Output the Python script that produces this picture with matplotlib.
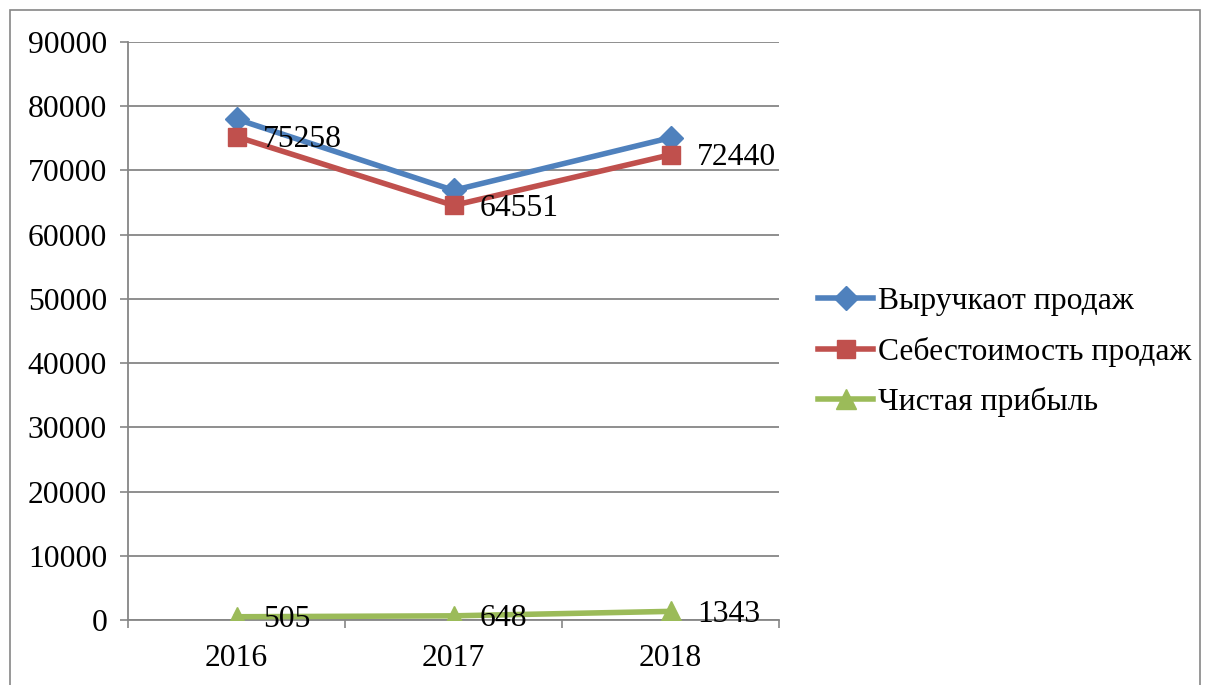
import matplotlib
matplotlib.use("Agg")
import matplotlib.pyplot as plt
from matplotlib.patches import Rectangle

plt.rcParams['font.family'] = ['Liberation Serif', 'DejaVu Serif']

years = ["2016", "2017", "2018"]
revenue = [78000, 66900, 75100]
cost = [75258, 64551, 72440]
profit = [505, 648, 1343]
cost_labels = ["75258", "64551", "72440"]
profit_labels = ["505", "648", "1343"]
series_names = ["Выручкаот продаж", "Себестоимость продаж", "Чистая прибыль"]
yticks = list(range(0, 90001, 10000))

FS = 22.8
GRID = "#868686"
BLUE = "#4F81BD"
RED = "#C0504D"
GREEN = "#9BBB59"

fig = plt.figure(figsize=(12.1, 6.85), dpi=100)
fig.patches.append(Rectangle((10/1210, -0.05), 1190/1210, 1 - 10/685 + 0.05,
                             transform=fig.transFigure, fill=False,
                             edgecolor=GRID, linewidth=1.2))

ax = fig.add_axes([128/1210, 1 - 620/685, 651/1210, 578/685])
x = list(range(len(years)))

lw = 4.0
ax.plot(x, revenue, color=BLUE, lw=lw, marker="D", markersize=12,
        label=series_names[0], zorder=3)
ax.plot(x, cost, color=RED, lw=lw, marker="s", markersize=13,
        label=series_names[1], zorder=4)
ax.plot(x, profit, color=GREEN, lw=lw, marker="^", markersize=15,
        label=series_names[2], zorder=5)

for xi, v, t in zip(x, cost, cost_labels):
    ax.annotate(t, (xi, v), xytext=(19, -2), textcoords="offset points",
                ha="left", va="center", fontsize=FS, zorder=6)
for xi, v, t in zip(x, profit, profit_labels):
    ax.annotate(t, (xi, v), xytext=(19, -2), textcoords="offset points",
                ha="left", va="center", fontsize=FS, zorder=6)

ax.set_xlim(-0.5, 2.5)
ax.set_ylim(0, 90000)
ax.set_yticks(yticks)
ax.set_yticklabels([str(v) for v in yticks], fontsize=FS)
ax.set_xticks(x)
ax.set_xticklabels(years, fontsize=FS)
ax.set_xticks([-0.5, 0.5, 1.5, 2.5], minor=True)
ax.tick_params(axis="x", which="major", length=0, pad=17)
ax.tick_params(axis="x", which="minor", length=6, color=GRID, width=1.2)
ax.tick_params(axis="y", length=6, color=GRID, width=1.2, pad=9)

ax.grid(axis="y", color=GRID, linewidth=1.3, zorder=0)
ax.set_axisbelow(True)
for s in ["top", "right"]:
    ax.spines[s].set_visible(False)
for s in ["left", "bottom"]:
    ax.spines[s].set_color(GRID)
    ax.spines[s].set_linewidth(1.3)

leg = ax.legend(loc="center left", bbox_to_anchor=(818/1210, 1 - 352/685),
                bbox_transform=fig.transFigure, frameon=False, fontsize=FS,
                handlelength=1.75, handletextpad=0.15, labelspacing=0.65,
                borderpad=0, borderaxespad=0)

fig.savefig("out.png", dpi=100)
